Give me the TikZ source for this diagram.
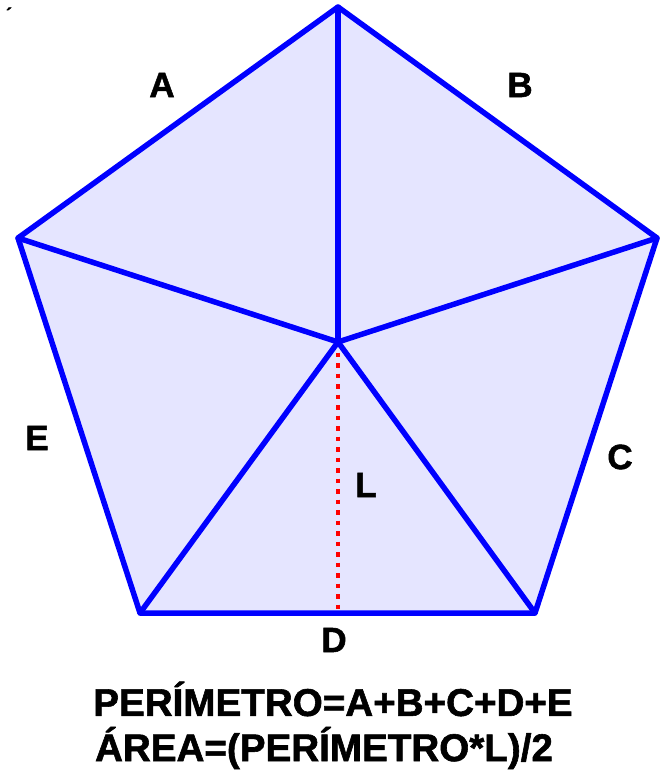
\documentclass[tikz,border=0pt]{standalone}
\usepackage{fontspec}
\setmainfont{Liberation Sans}[BoldFeatures={FakeBold=1.5}]
\usepackage{tikz}
\usetikzlibrary{positioning,calc}

\tikzset{
  side/.style={draw=blue, line width=5.5pt, line join=round},
  lbl/.style={font=\bfseries\fontsize{35}{35}\selectfont, inner sep=0pt},
  formula/.style={font=\bfseries\fontsize{38.6}{40}\selectfont, inner sep=0pt}
}

\begin{document}
\begin{tikzpicture}[x=1pt, y=-1pt]
  \useasboundingbox (0,0) rectangle (667,775);

  % Vertices and centre
  \coordinate (top) at (338,7);
  \coordinate (left) at (18,238);
  \coordinate (right) at (657,238);
  \coordinate (bl) at (140,613);
  \coordinate (br) at (535,613);
  \coordinate (cen) at (338,342);
  \coordinate (foot) at (338,613);

  % Pentagon
  \fill[blue!10] (top) -- (right) -- (br) -- (bl) -- (left) -- cycle;

  % Apothem
  \draw[red, line width=4.5pt, dash pattern=on 4.5pt off 6pt] (cen) -- (foot);

  % Radii
  \foreach \v in {top, right, br, bl, left}
    \draw[side, line cap=round] (cen) -- (\v);
  \draw[side] (top) -- (right) -- (br) -- (bl) -- (left) -- cycle;

  % Side labels
  \node[lbl] (la) at (162,85) {A};
  \node[lbl] (lb) at (520,85) {B};
  \node[lbl] (lc) at (620,457) {C};
  \node[lbl] (ld) at (334,640) {D};
  \node[lbl] (le) at (37,438) {E};
  \node[lbl] (ll) at (366,485) {L};

  % Stray accent
  \node[font=\bfseries\fontsize{18}{18}\selectfont, inner sep=0pt] (acc) at (9,14) {´};

  % Formulas
  \node[formula] (per) at (333,699) {PERÍMETRO=A+B+C+D+E};
  \node[formula] (area) at (324,748) {ÁREA=(PERÍMETRO*L)/2};
\end{tikzpicture}
\end{document}
